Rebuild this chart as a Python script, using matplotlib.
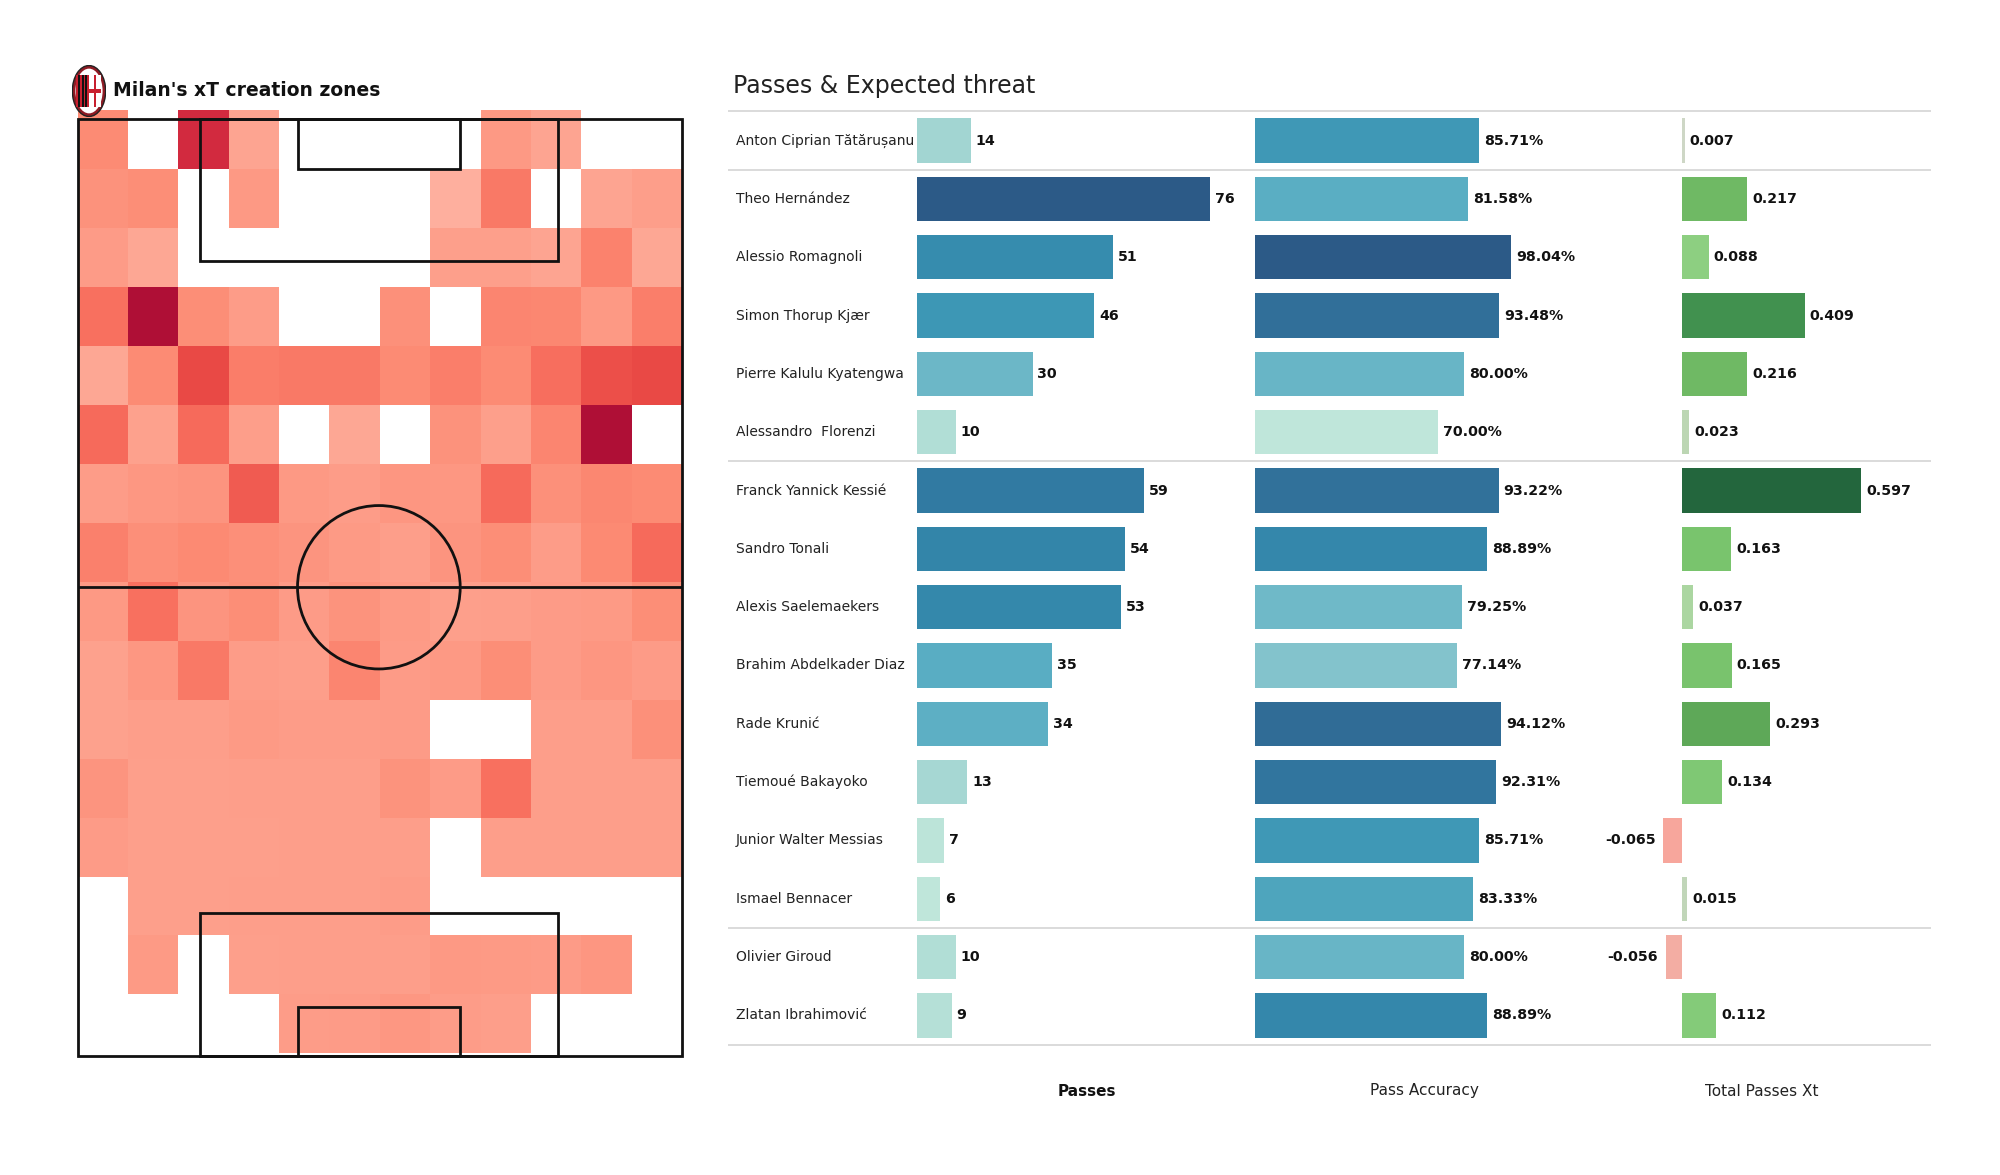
import numpy as np
import matplotlib
matplotlib.use("Agg")
import matplotlib.pyplot as plt
from matplotlib.colors import LinearSegmentedColormap, Normalize, TwoSlopeNorm
from matplotlib.patches import Rectangle, Circle, Ellipse

n = np.nan
# heat levels per zone, top row is the attacking end
heat = [
    [40, n, 85, 22, n, n, n, n, 30, 22, n, n],
    [35, 38, n, 30, n, n, n, 15, 50, n, 22, 26],
    [28, 20, n, n, n, n, n, 25, 25, 22, 45, 20],
    [55, 100, 38, 27, n, n, 36, n, 43, 42, 30, 47],
    [20, 40, 75, 48, 50, 50, 40, 47, 40, 56, 72, 75],
    [58, 24, 58, 26, n, 20, n, 35, 25, 43, 100, n],
    [27, 31, 33, 66, 30, 27, 32, 31, 58, 36, 42, 40],
    [46, 37, 41, 37, 33, 29, 26, 33, 38, 27, 41, 58],
    [30, 55, 33, 38, 28, 34, 29, 25, 26, 28, 29, 38],
    [24, 31, 50, 27, 26, 43, 28, 30, 38, 28, 32, 28],
    [24, 26, 26, 29, 27, 27, 28, n, n, 26, 26, 36],
    [33, 25, 25, 26, 26, 26, 34, 28, 55, 26, 26, 26],
    [28, 25, 25, 25, 26, 26, 26, n, 26, 26, 26, 26],
    [n, 25, 25, 26, 26, 26, 27, n, n, n, n, n],
    [n, 29, n, 25, 26, 26, 26, 30, 29, 28, 32, n],
    [n, n, n, n, 27, 28, 31, 27, 26, n, n, n],
]

players = ["Anton Ciprian Tătărușanu", "Theo Hernández", "Alessio Romagnoli", "Simon Thorup Kjær",
           "Pierre Kalulu Kyatengwa", "Alessandro  Florenzi", "Franck Yannick Kessié", "Sandro Tonali",
           "Alexis Saelemaekers", "Brahim Abdelkader Diaz", "Rade Krunić", "Tiemoué Bakayoko",
           "Junior Walter Messias", "Ismael Bennacer", "Olivier Giroud", "Zlatan Ibrahimović"]
passes = [14, 76, 51, 46, 30, 10, 59, 54, 53, 35, 34, 13, 7, 6, 10, 9]
accuracy = [85.71, 81.58, 98.04, 93.48, 80.00, 70.00, 93.22, 88.89, 79.25, 77.14, 94.12, 92.31,
            85.71, 83.33, 80.00, 88.89]
xt = [0.007, 0.217, 0.088, 0.409, 0.216, 0.023, 0.597, 0.163, 0.037, 0.165, 0.293, 0.134,
      -0.065, 0.015, -0.056, 0.112]
separators = [-0.5, 0.5, 5.5, 13.5, 15.5]

W, H = 2000, 1175
ROW_TOP, ROW_BOTTOM = 112, 1044


def px_axes(x0, y0, x1, y1):
    # axes from pixel box, y measured from the top
    return fig.add_axes([x0 / W, 1 - y1 / H, (x1 - x0) / W, (y1 - y0) / H])


fig = plt.figure(figsize=(20, 11.75), dpi=100, facecolor="white")

heat_cmap = LinearSegmentedColormap.from_list("heat", [
    (0.0, "#ffc6ba"), (0.25, "#fd9f8b"), (0.40, "#fc8b74"), (0.55, "#f8705f"),
    (0.75, "#ea4a45"), (0.85, "#d22a3f"), (1.0, "#af0f36")])
bar_cmap = LinearSegmentedColormap.from_list("bars", [
    (0.0, "#bfe6da"), (0.11, "#a3d5d2"), (0.255, "#83c3cc"), (0.41, "#5aaec3"), (0.57, "#3d97b5"),
    (0.67, "#3488ab"), (0.76, "#317aa2"), (0.84, "#316f99"), (1.0, "#2c5a87")])
xt_cmap = LinearSegmentedColormap.from_list("xt", [
    (0.0, "#f7a69c"), (0.5, "#d8d8d0"), (0.5126, "#c3d6bb"), (0.531, "#a9d69f"), (0.574, "#8ccf80"),
    (0.612, "#7fc874"), (0.637, "#79c46d"), (0.682, "#6fb964"), (0.745, "#5ea858"), (0.843, "#41914f"),
    (1.0, "#23663d")])

# pitch, metres
ax = px_axes(77.5, 118.5, 682, 1056)
ax.set_xlim(0, 68)
ax.set_ylim(105, 0)
ax.axis("off")
ax.pcolormesh(np.linspace(0, 68, 13), np.linspace(-0.9, 104.7, 17), np.ma.masked_invalid(heat),
              cmap=heat_cmap, norm=Normalize(0, 100), clip_on=False, zorder=1)
line = dict(fill=False, ec="#111111", lw=2, zorder=3, clip_on=False)
ax.add_patch(Rectangle((0, 0), 68, 105, **line))
ax.add_patch(Rectangle((13.75, 0), 40.32, 16, **line))
ax.add_patch(Rectangle((24.75, 0), 18.32, 5.7, **line))
ax.add_patch(Rectangle((13.75, 89), 40.32, 16, **line))
ax.add_patch(Rectangle((24.75, 99.5), 18.32, 5.5, **line))
ax.add_patch(Circle((33.9, 52.5), 9.15, **line))
ax.plot([0, 68], [52.5, 52.5], color="#111111", lw=2, zorder=3)

fig.text(113 / W, 1 - 90.5 / H, "Milan's xT creation zones", fontsize=13.5, fontweight="bold",
         va="center", color="#111111")

# rough club badge
bx = px_axes(72, 65, 106, 117)
bx.set_xlim(0, 1)
bx.set_ylim(0, 1)
bx.axis("off")
outer = Ellipse((0.5, 0.5), 0.98, 0.98, fc="#8e1b24", ec="#222222", lw=1)
bx.add_patch(outer)
bx.add_patch(Ellipse((0.5, 0.5), 0.8, 0.86, fc="white", ec="none"))
for k, left in enumerate(np.arange(0.12, 0.5, 0.055)):
    s = bx.add_patch(Rectangle((left, 0.2), 0.055, 0.6, fc="#111111" if k % 2 else "#c8202f", ec="none"))
    s.set_clip_path(outer)
bx.add_patch(Rectangle((0.5, 0.2), 0.36, 0.6, fc="white", ec="none"))
bx.add_patch(Rectangle((0.64, 0.2), 0.07, 0.6, fc="#c8202f", ec="none"))
bx.add_patch(Rectangle((0.5, 0.47), 0.36, 0.07, fc="#c8202f", ec="none"))

# table background
tab = px_axes(728, ROW_TOP, 1931, ROW_BOTTOM)
tab.set_xlim(0, 1)
tab.set_ylim(15.49, -0.49)
tab.axis("off")
tab.hlines(separators, 0, 1, color="#d4d4d4", lw=1.2, clip_on=False)
for i, name in enumerate(players):
    tab.text(0.0066, i, name, fontsize=10, va="center", color="#222222")
tab.text(0.0045, -0.93, "Passes & Expected threat", fontsize=17, va="center", color="#222222")


def bar_column(x0, x1, xlim, values, colors, fmt):
    col = px_axes(x0, ROW_TOP, x1, ROW_BOTTOM)
    col.set_xlim(*xlim)
    col.set_ylim(15.49, -0.49)
    col.axis("off")
    col.patch.set_alpha(0)
    col.barh(range(len(values)), values, height=0.76, color=colors)
    gap = (xlim[1] - xlim[0]) / (x1 - x0) * 5
    for i, v in enumerate(values):
        col.text(v + gap if v >= 0 else v - gap * 1.5, i, fmt(v), fontsize=10.2, fontweight="bold", va="center",
                 ha="left" if v >= 0 else "right", color="#111111")


bar_column(917, 1225, (0, 80), passes, bar_cmap(Normalize(6, 76)(passes)), lambda v: f"{v}")
bar_column(1255, 1647, (0, 150), accuracy, bar_cmap(Normalize(70, 98.04)(accuracy)), lambda v: f"{v:.2f}%")
bar_column(1503, 1930, (-0.6, 0.828), xt, xt_cmap(TwoSlopeNorm(0, -0.065, 0.597)(xt)), lambda v: f"{v:.3f}")

fig.text(1087 / W, 1 - 1091 / H, "Passes", fontsize=11, fontweight="bold", ha="center", va="center", color="#111111")
fig.text(1424 / W, 1 - 1090.5 / H, "Pass Accuracy", fontsize=11, ha="center", va="center", color="#222222")
fig.text(1762 / W, 1 - 1091 / H, "Total Passes Xt", fontsize=11, ha="center", va="center", color="#222222")

fig.savefig("out.png", dpi=100, facecolor="white")
